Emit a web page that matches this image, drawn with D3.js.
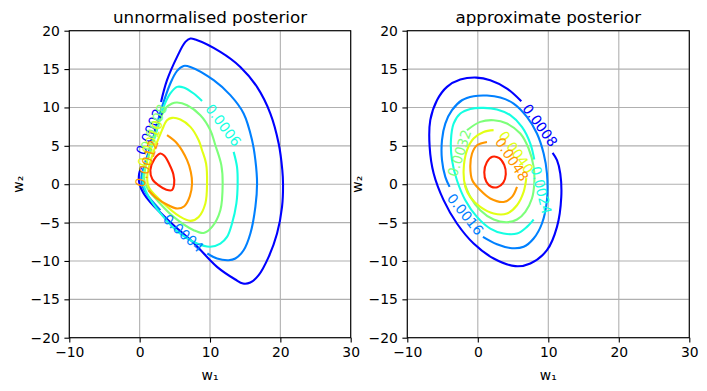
<!DOCTYPE html>
<html>
<head>
<meta charset="utf-8">
<script src="https://cdn.jsdelivr.net/npm/d3@7"></script>
<style>
  body { margin: 0; background: #fff; }
  svg { font-family: "DejaVu Sans", sans-serif; }
</style>
</head>
<body>
<div id="chart"></div>
<script>
const xTicks = [-10, 0, 10, 20, 30];
const yTicks = [-20, -15, -10, -5, 0, 5, 10, 15, 20];
const titles = ["unnormalised posterior", "approximate posterior"];

const leftLevels = ["0.0002", "0.0004", "0.0006", "0.0008", "0.0010", "0.0012", "0.0014"];
const rightLevels = ["0.0008", "0.0016", "0.0024", "0.0032", "0.0040", "0.0048", "0.0056"];

// contour lines, [w1, w2]
const left0002 = [[3.04,10.72],[3.89,13.55],[5.32,16.59],[6.50,18.54],[7.21,18.98],[7.92,18.85],[11.47,17.24],[14.31,15.28],[16.68,12.68],[18.58,9.21],[19.76,5.30],[20.28,1.82],[20.38,0],[20.24,-2.95],[19.53,-6.43],[18.34,-9.47],[16.92,-11.85],[15.73,-12.81],[14.69,-12.94],[13.60,-12.42],[11.0,-10.77],[7.68,-7.66],[4.36,-4.95],[1.52,-2.35],[0.57,-1.21],[-0.04,0.09],[-0.07,1.39],[0.24,2.25]];
const left0004 = [[9.62,-9.03],[11.0,-9.68],[12.65,-9.90],[13.60,-9.68],[14.78,-8.60],[15.74,-6.42],[16.45,-2.96],[16.69,0.09],[16.45,3.13],[15.98,5.73],[14.78,9.21],[12.89,11.60],[10.52,13.55],[7.21,15.28],[6.25,15.41],[5.32,14.76],[4.36,13.12],[3.18,10.07],[1.81,5.73],[0.67,2.48],[0.24,0.78],[0.45,-0.39],[1.09,-1.43],[2.94,-3.39]];
const left0006 = [[8.87,10.85],[7.68,11.82],[6.25,12.60],[5.32,12.68],[4.36,11.82],[3.41,10.07],[2.25,6.38],[0.95,2.74],[0.45,0.78],[0.67,-0.39],[1.24,-1.56],[2.94,-3.78],[5.32,-6.12],[8.16,-7.73],[10.05,-8.14],[11.47,-7.73],[12.42,-6.87],[13.13,-5.12],[13.75,-2.51],[13.93,0.09],[13.84,2.25],[13.36,4.21]];
const left0008 = [[1.28,-0.78],[2.47,-2.08],[4.83,-4.26],[7.68,-5.99],[9.10,-6.35],[10.29,-5.56],[11.47,-3.39],[11.80,0.09],[11.61,2.48],[10.76,5.08],[10.05,7.04],[8.63,8.99],[6.74,10.29],[5.32,10.64],[4.61,10.51],[3.65,9.86],[2.70,7.91],[1.52,4.43],[0.81,2.08],[0.67,0.52]];
const left0010 = [[3.18,7.04],[3.89,8.34],[4.61,8.64],[5.79,8.43],[7.21,7.47],[8.39,5.73],[8.87,4.43],[9.44,2.70],[9.58,0.09],[9.34,-2.51],[8.39,-4.26],[7.21,-4.78],[5.79,-4.26],[2.94,-2.08],[1.28,-0.35],[1.09,1.17],[1.81,3.78]];
const left0012 = [[3.89,6.38],[5.32,5.30],[6.74,3.13],[7.28,1.56],[7.45,0.09],[7.14,-1.56],[6.35,-2.87],[5.36,-3.17],[4.08,-2.74],[2.47,-1.86],[1.24,-0.78]];
const left0014 = [[2.94,4.0],[2.09,3.26],[1.52,1.82],[1.81,0.65],[2.66,-0.13],[3.80,-0.72],[4.58,-0.78],[4.90,0],[4.79,1.30],[4.22,2.61],[3.51,3.71]];

const right0008 = [[6.17,10.81],[4.14,12.46],[1.77,13.55],[-0.21,13.89],[-2.48,13.63],[-4.37,12.68],[-5.79,10.94],[-6.74,8.34],[-6.83,4.86],[-6.26,1.39],[-4.85,-2.08],[-2.96,-5.12],[-0.59,-7.73],[2.25,-9.68],[5.32,-10.68],[7.45,-10.33],[9.81,-8.60],[11.23,-5.56],[11.84,-1.65],[11.70,1.39],[11.23,3.13],[10.61,4.08]];
const right0016 = [[0.73,-6.86],[2.72,-7.82],[4.85,-8.34],[6.50,-8.16],[7.92,-7.08],[9.10,-5.12],[9.81,-2.08],[9.81,1.39],[9.34,3.99],[8.39,6.60],[6.97,8.77],[5.08,10.51],[3.19,11.29],[1.30,11.55],[-0.59,11.46],[-2.25,10.94],[-3.66,9.64],[-4.61,7.90],[-5.08,5.73],[-5.08,3.13],[-4.61,0.96],[-4.0,-0.35]];
const right0024 = [[8.01,3.21],[7.45,5.30],[6.26,7.47],[4.61,8.99],[2.72,9.73],[0.83,9.94],[-1.06,9.81],[-2.48,9.21],[-3.43,7.90],[-3.81,5.73],[-3.66,3.13],[-2.96,0.52],[-1.77,-2.08],[-0.12,-4.26],[1.77,-5.78],[3.66,-6.43],[5.56,-6.43],[6.97,-5.56],[7.92,-4.60]];
const right0032 = [[-1.91,0.17],[-1.06,-1.65],[0.35,-3.39],[2.25,-4.60],[4.14,-4.95],[5.56,-4.60],[6.74,-3.60],[7.68,-1.87],[8.01,0.09],[7.92,2.26],[7.21,4.65],[6.03,6.60],[4.14,7.90],[2.25,8.34],[0.35,8.12],[-1.54,7.03]];
const right0040 = [[2.24,7.04],[0.82,6.81],[-0.60,5.95],[-1.53,4.43],[-2.01,1.82],[-1.77,-0.35],[-1.06,-1.69],[0.35,-2.96],[2.24,-3.82],[4.14,-3.82],[5.56,-2.74],[6.50,-1.0],[6.88,0.78]];
const right0048 = [[1.30,5.51],[-0.11,5.08],[-0.82,4.0],[-1.06,2.25],[-0.78,0.52],[0.35,-0.78],[1.77,-1.86],[3.66,-2.31],[4.85,-1.65],[5.56,-0.35]];
const right0056 = [[2.06,3.58],[1.28,2.87],[0.92,1.56],[1.21,0.33],[1.91,-0.33],[2.77,-0.39],[3.62,0.20],[3.97,1.30],[3.76,2.48],[3.05,3.39]];

const leftLines = [left0002, left0004, left0006, left0008, left0010, left0012, left0014];
const rightLines = [right0008, right0016, right0024, right0032, right0040, right0048, right0056];
const leftClosed = [false, false, false, true, true, false, true];
const rightClosed = [false, false, false, false, false, false, true];

// inline contour labels: level index, anchor [w1, w2]
const leftLabelLevel = [0, 3, 4, 5, 1, 2];
const leftLabelAt = [[1.39,6.84],[2.0,7.4],[1.5,5.3],[1.0,2.7],[6.21,-6.38],[11.9,7.69]];
const rightLabelLevel = [0, 1, 2, 3, 4, 5];
const rightLabelAt = [[8.85,7.69],[-1.77,-3.91],[9.0,-0.78],[-2.62,4.04],[5.45,4.17],[4.85,3.26]];

// styles
const levelColors = ["#0000ff", "#0080ff", "#15ffe2", "#7dff7a", "#e2ff15", "#ff9700", "#ff2100"];
const leftLabelAngle = [-67, -68, -70, -72, 42, 53];
const rightLabelAngle = [54, 51, 76, -72, 54, 57];

const width = 707, height = 391;
const axTop = 30.7, axBottom = 337.7;
const panels = [
  { x0: 69.3, x1: 350.7, title: titles[0], levels: leftLevels, lines: leftLines, closed: leftClosed,
    labLevel: leftLabelLevel, labAt: leftLabelAt, labAngle: leftLabelAngle, ylabX: 18 },
  { x0: 407.3, x1: 689.3, title: titles[1], levels: rightLevels, lines: rightLines, closed: rightClosed,
    labLevel: rightLabelLevel, labAt: rightLabelAt, labAngle: rightLabelAngle, ylabX: 357 }
];

const svg = d3.select("#chart").append("svg")
  .attr("width", width)
  .attr("height", height);

const fmt = d => d < 0 ? "\u2212" + Math.abs(d) : String(d);

panels.forEach(p => {
  const x = d3.scaleLinear().domain([-10, 30]).range([p.x0, p.x1]);
  const y = d3.scaleLinear().domain([-20, 20]).range([axBottom, axTop]);
  const g = svg.append("g");

  // grid
  g.selectAll(".gx").data(xTicks).enter().append("line")
    .attr("x1", d => x(d)).attr("x2", d => x(d))
    .attr("y1", axTop).attr("y2", axBottom)
    .attr("stroke", "#b0b0b0").attr("stroke-width", 1.1);
  g.selectAll(".gy").data(yTicks).enter().append("line")
    .attr("x1", p.x0).attr("x2", p.x1)
    .attr("y1", d => y(d)).attr("y2", d => y(d))
    .attr("stroke", "#b0b0b0").attr("stroke-width", 1.1);

  // contour lines
  p.lines.forEach((pts, i) => {
    const line = d3.line()
      .x(d => x(d[0])).y(d => y(d[1]))
      .curve(p.closed[i] ? d3.curveCatmullRomClosed : d3.curveCatmullRom);
    g.append("path")
      .attr("d", line(pts))
      .attr("fill", "none")
      .attr("stroke", levelColors[i])
      .attr("stroke-width", 2.1)
      .attr("stroke-linejoin", "round");
  });

  // inline labels
  p.labAt.forEach((pos, i) => {
    const k = p.labLevel[i];
    g.append("text")
      .attr("transform", `translate(${x(pos[0])},${y(pos[1])}) rotate(${p.labAngle[i]})`)
      .attr("text-anchor", "middle")
      .attr("dominant-baseline", "central")
      .attr("font-size", "13.9px")
      .attr("fill", levelColors[k])
      .text(p.levels[k]);
  });

  // axes
  const ax = g.append("g")
    .attr("transform", `translate(0,${axBottom})`)
    .call(d3.axisBottom(x).tickValues(xTicks).tickSize(4.9).tickPadding(4.5).tickFormat(fmt));
  const ay = g.append("g")
    .attr("transform", `translate(${p.x0},0)`)
    .call(d3.axisLeft(y).tickValues(yTicks).tickSize(4.9).tickPadding(4.5).tickFormat(fmt));
  [ax, ay].forEach(a => {
    a.attr("font-family", null).attr("font-size", "13.9px");
    a.select(".domain").remove();
    a.selectAll(".tick line").attr("stroke", "#000").attr("stroke-width", 1.1);
    a.selectAll(".tick text").attr("fill", "#000");
  });

  // frame
  g.append("rect")
    .attr("x", p.x0).attr("y", axTop)
    .attr("width", p.x1 - p.x0).attr("height", axBottom - axTop)
    .attr("fill", "none").attr("stroke", "#000").attr("stroke-width", 1.1);

  // title and axis labels
  g.append("text")
    .attr("x", (p.x0 + p.x1) / 2).attr("y", 22.5)
    .attr("text-anchor", "middle")
    .attr("font-size", "16.7px")
    .text(p.title);
  g.append("text")
    .attr("x", (p.x0 + p.x1) / 2).attr("y", 380)
    .attr("text-anchor", "middle")
    .attr("font-size", "13.9px")
    .text("w\u2081");
  g.append("text")
    .attr("transform", `translate(${p.ylabX},${(axTop + axBottom) / 2}) rotate(-90)`)
    .attr("text-anchor", "middle")
    .attr("dominant-baseline", "central")
    .attr("font-size", "13.9px")
    .text("w\u2082");
});
</script>
</body>
</html>
